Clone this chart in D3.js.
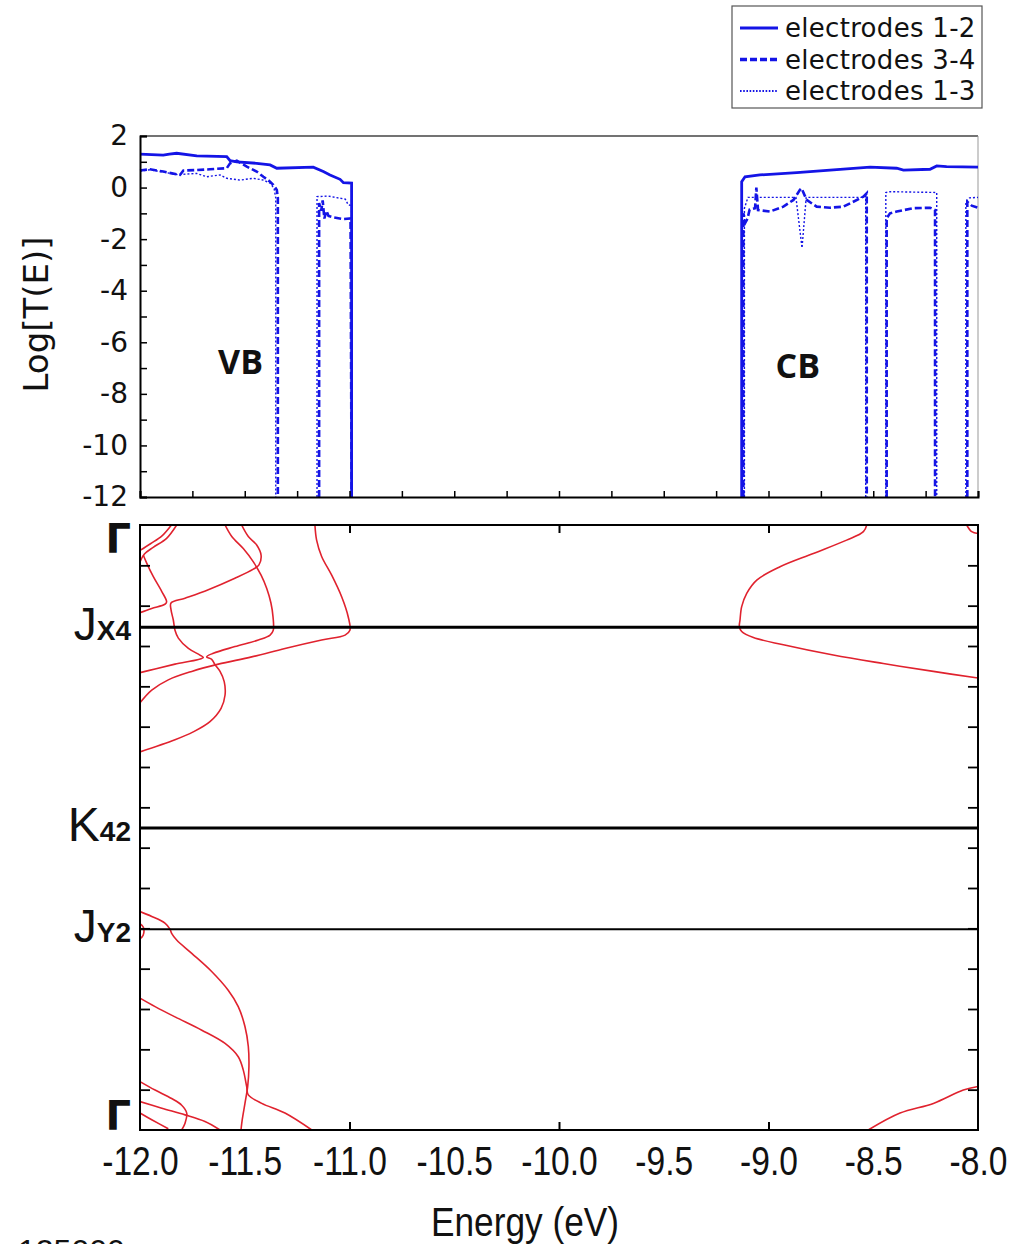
<!DOCTYPE html>
<html>
<head>
<meta charset="utf-8">
<script src="https://cdn.jsdelivr.net/npm/d3@7"></script>
<style>
  body { margin: 0; background: #fff; }
</style>
</head>
<body>
<svg id="chart" width="1021" height="1244"></svg>
<script>
// ---- data ----
var energyTicks = [-12, -11.5, -11, -10.5, -10, -9.5, -9, -8.5, -8];
var logTicks = [2, 0, -2, -4, -6, -8, -10, -12];
var seriesNames = ["electrodes 1-2", "electrodes 3-4", "electrodes 1-3"];

// transmission, [energy, log T], null = break
var trans12 = [
  [-12, 1.30], [-11.889, 1.26], [-11.86, 1.30], [-11.825, 1.33], [-11.729, 1.23], [-11.586, 1.20],
  [-11.57, 1.04], [-11.538, 1.00], [-11.443, 0.94], [-11.379, 0.88], [-11.347, 0.75], [-11.173, 0.79],
  [-11.125, 0.62], [-11.093, 0.49], [-11.045, 0.32], [-11.029, 0.19], [-10.99, 0.17], [-10.99, -12],
  null,
  [-9.128, -12], [-9.128, 0.23], [-9.112, 0.42], [-9.041, 0.49], [-8.865, 0.58], [-8.706, 0.68],
  [-8.515, 0.79], [-8.388, 0.75], [-8.356, 0.68], [-8.229, 0.71], [-8.197, 0.84], [-8.15, 0.81], [-8.0, 0.79]
];
var trans34 = [
  [-12, 0.66], [-11.952, 0.71], [-11.889, 0.62], [-11.809, 0.49], [-11.793, 0.66], [-11.729, 0.68],
  [-11.666, 0.71], [-11.586, 0.75], [-11.57, 0.94], [-11.538, 1.04], [-11.49, 0.81], [-11.443, 0.62],
  [-11.411, 0.42], [-11.379, 0.23], [-11.363, 0.10], [-11.347, -0.09], [-11.342, -0.4], [-11.342, -12],
  null,
  [-11.145, -12], [-11.145, -0.6], [-11.135, -0.9], [-11.128, -0.5], [-11.12, -1.2], [-11.11, -0.9],
  [-11.10, -1.1], [-11.08, -1.15], [-11.03, -1.22], [-10.995, -1.2], [-10.99, -12],
  null,
  [-9.12, -12], [-9.12, -1.0], [-9.11, -1.35], [-9.10, -1.2], [-9.09, -0.85], [-9.064, -0.80],
  [-9.058, 0.0], [-9.05, -0.87], [-8.993, -0.93], [-8.929, -0.74], [-8.881, -0.48], [-8.85, -0.09],
  [-8.842, -0.03], [-8.818, -0.48], [-8.77, -0.74], [-8.706, -0.78], [-8.643, -0.74], [-8.595, -0.55],
  [-8.547, -0.35], [-8.531, -0.22], [-8.531, -12],
  null,
  [-8.436, -12], [-8.436, -1.19], [-8.42, -1.0], [-8.388, -0.93], [-8.309, -0.80], [-8.229, -0.78],
  [-8.205, -0.87], [-8.205, -12],
  null,
  [-8.051, -12], [-8.051, -0.55], [-8.03, -0.7], [-8.0, -0.78]
];
var trans13 = [
  [-12, 0.64], [-11.952, 0.69], [-11.889, 0.60], [-11.82, 0.50], [-11.73, 0.55], [-11.682, 0.42],
  [-11.618, 0.49], [-11.586, 0.36], [-11.523, 0.29], [-11.459, 0.36], [-11.411, 0.29], [-11.379, 0.17],
  [-11.36, -0.03], [-11.352, -0.4], [-11.352, -12],
  null,
  [-11.155, -12], [-11.155, -0.35], [-11.10, -0.33], [-11.061, -0.39], [-11.02, -0.45], [-11.006, -0.67],
  [-10.99, -0.7], [-10.99, -12],
  null,
  [-9.115, -12], [-9.115, -0.8], [-9.098, -0.38], [-8.869, -0.38], [-8.84, -2.34], [-8.82, -0.38],
  [-8.547, -0.38], [-8.536, -0.25], [-8.536, -12],
  null,
  [-8.44, -12], [-8.44, -0.19], [-8.42, -0.16], [-8.197, -0.19], [-8.197, -12],
  null,
  [-8.058, -12], [-8.058, -0.55], [-8.04, -0.4], [-8.0, -0.38]
];

// k-path labels (0 = top Gamma, 1 = bottom Gamma)
var kPoints = [0, 0.169, 0.501, 0.668, 1];
var kNames = ["Γ", "J", "K", "J", "Γ"];
var kSubs = ["", "X4", "42", "Y2", ""];

// band lines, [energy, k]
var bandA = [[-11.825, 0], [-11.873, 0.022], [-11.937, 0.037], [-11.979, 0.048], [-12.0, 0.061]];
var bandA2 = [[-11.85, 0], [-11.895, 0.018], [-11.95, 0.031], [-12.0, 0.042]];
var bandB = [[-11.984, 0.050], [-11.968, 0.063], [-11.937, 0.085], [-11.896, 0.110], [-11.873, 0.127],
  [-11.881, 0.131], [-11.944, 0.138], [-12.0, 0.145]];
var bandC = [[-11.515, 0], [-11.483, 0.019], [-11.443, 0.033], [-11.422, 0.050], [-11.432, 0.066],
  [-11.459, 0.073], [-11.547, 0.088], [-11.674, 0.107], [-11.785, 0.121], [-11.852, 0.129],
  [-11.852, 0.140], [-11.841, 0.157], [-11.833, 0.174], [-11.817, 0.187], [-11.769, 0.204],
  [-11.714, 0.215], [-11.698, 0.219], [-11.833, 0.230], [-11.928, 0.238], [-12.0, 0.244]];
var bandD = [[-11.594, 0], [-11.562, 0.019], [-11.507, 0.039], [-11.459, 0.061], [-11.422, 0.083],
  [-11.395, 0.105], [-11.375, 0.129], [-11.365, 0.152], [-11.364, 0.174], [-11.379, 0.182],
  [-11.435, 0.190], [-11.547, 0.201], [-11.650, 0.212], [-11.682, 0.218], [-11.658, 0.222],
  [-11.642, 0.231], [-11.618, 0.242], [-11.598, 0.259], [-11.594, 0.281], [-11.613, 0.303],
  [-11.666, 0.325], [-11.746, 0.342], [-11.833, 0.355], [-12.0, 0.375]];
var bandE = [[-11.165, 0], [-11.157, 0.025], [-11.133, 0.052], [-11.085, 0.083], [-11.037, 0.119],
  [-11.006, 0.152], [-10.998, 0.174], [-11.021, 0.182], [-11.133, 0.190], [-11.308, 0.204],
  [-11.467, 0.218], [-11.626, 0.230], [-11.753, 0.242], [-11.865, 0.256], [-11.944, 0.273], [-12.0, 0.294]];
var bandF = [[-8.531, 0], [-8.547, 0.011], [-8.627, 0.025], [-8.786, 0.047], [-8.945, 0.069],
  [-9.056, 0.091], [-9.104, 0.113], [-9.128, 0.135], [-9.136, 0.157], [-9.139, 0.168], [-9.128, 0.176],
  [-9.072, 0.186], [-8.929, 0.198], [-8.691, 0.215], [-8.452, 0.229], [-8.213, 0.242], [-8.0, 0.253]];
var bandF2 = [[-8.054, 0], [-8.030, 0.011], [-8.0, 0.014]];
var bandG = [[-12.0, 0.639], [-11.944, 0.647], [-11.881, 0.658], [-11.857, 0.668], [-11.849, 0.675],
  [-11.825, 0.686], [-11.753, 0.708], [-11.658, 0.738], [-11.579, 0.769], [-11.531, 0.796],
  [-11.499, 0.829], [-11.483, 0.862], [-11.480, 0.895], [-11.486, 0.928], [-11.499, 0.956],
  [-11.512, 0.983], [-11.518, 1.0]];
var bandLoop = [[-12.0, 0.659], [-11.984, 0.665], [-11.985, 0.678], [-12.0, 0.684]];
var bandH = [[-12.0, 0.782], [-11.928, 0.796], [-11.833, 0.813], [-11.705, 0.835], [-11.594, 0.857],
  [-11.531, 0.879], [-11.507, 0.901], [-11.491, 0.928], [-11.483, 0.942], [-11.419, 0.956],
  [-11.308, 0.972], [-11.180, 1.0]];
var bandI = [[-12.0, 0.920], [-11.928, 0.934], [-11.849, 0.948], [-11.801, 0.959], [-11.777, 0.972],
  [-11.785, 0.989], [-11.801, 1.0]];
var bandJ = [[-12.0, 0.953], [-11.896, 0.964], [-11.785, 0.975], [-11.690, 0.986], [-11.618, 1.0]];
var bandK = [[-12.0, 0.972], [-11.944, 0.983], [-11.865, 0.998]];
var bandL = [[-8.524, 1.0], [-8.372, 0.972], [-8.213, 0.956], [-8.070, 0.934], [-8.0, 0.928]];
var bands = [bandA, bandA2, bandB, bandC, bandD, bandE, bandF, bandF2, bandG, bandLoop, bandH, bandI, bandJ, bandK, bandL];

// ---- drawing ----
var svg = d3.select("#chart");
var left = 140, right = 978,
  topT = 136, bottomT = 497,
  topB = 525, bottomB = 1130;

var x = d3.scaleLinear().domain([-12, -8]).range([left, right]);
var yT = d3.scaleLinear().domain([-12, 2]).range([bottomT, topT]);
var yK = d3.scaleLinear().domain([0, 1]).range([topB, bottomB]);

var blue = "#1414e6", red = "#e0222e";

svg.append("defs").append("clipPath").attr("id", "clipB")
  .append("rect").attr("x", left).attr("y", topB).attr("width", right - left).attr("height", bottomB - topB);

// top panel frame
svg.append("line").attr("x1", left).attr("x2", right).attr("y1", topT).attr("y2", topT)
  .attr("stroke", "#444").attr("stroke-width", 1.5);
svg.append("line").attr("x1", right).attr("x2", right).attr("y1", topT).attr("y2", bottomT)
  .attr("stroke", "#999").attr("stroke-width", 1);

// transmission lines
var tline = d3.line()
  .defined(function(d) { return d !== null; })
  .x(function(d) { return x(d[0]); })
  .y(function(d) { return yT(d[1]); });

var styles = [
  {data: trans13, w: 1.4, dash: "2,2"},
  {data: trans34, w: 2.6, dash: "7,3"},
  {data: trans12, w: 2.8, dash: null}
];
styles.forEach(function(s) {
  svg.append("path")
    .attr("d", tline(s.data))
    .attr("fill", "none")
    .attr("stroke", blue)
    .attr("stroke-width", s.w)
    .attr("stroke-dasharray", s.dash);
});

// top panel axes
svg.append("g").attr("transform", "translate(0," + bottomT + ")")
  .call(d3.axisTop(x).tickValues(d3.range(-12, -7.99, 0.25)).tickSize(6).tickFormat(""))
  .call(function(g) { g.select(".domain").attr("stroke-width", 2); g.selectAll(".tick line").attr("stroke-width", 1.5); });

svg.append("g").attr("transform", "translate(" + left + ",0)")
  .call(d3.axisRight(yT).tickValues(d3.range(-12, 2.1, 1)).tickSize(7).tickFormat(""))
  .call(function(g) { g.select(".domain").attr("stroke-width", 2); g.selectAll(".tick line").attr("stroke-width", 1.5); });

svg.append("g").attr("transform", "translate(" + left + ",0)")
  .call(d3.axisLeft(yT).tickValues(logTicks).tickSize(0).tickPadding(12).tickFormat(function(d) { return String(d); }))
  .call(function(g) {
    g.select(".domain").remove();
    g.selectAll("text").attr("font-family", "DejaVu Sans").attr("font-size", 28).attr("fill", "#111");
  });

svg.append("text")
  .attr("transform", "translate(48," + ((topT + bottomT) / 2 - 2) + ") rotate(-90)")
  .attr("text-anchor", "middle")
  .attr("font-family", "DejaVu Sans").attr("font-size", 34).attr("fill", "#111")
  .text("Log[T(E)]");

svg.append("text").attr("x", x(-11.52)).attr("y", 374)
  .attr("text-anchor", "middle").attr("font-family", "Open Sans").attr("font-weight", "bold")
  .attr("font-size", 34).attr("fill", "#111").text("VB");
svg.append("text").attr("x", x(-8.86)).attr("y", 378)
  .attr("text-anchor", "middle").attr("font-family", "Open Sans").attr("font-weight", "bold")
  .attr("font-size", 34).attr("fill", "#111").text("CB");

// legend
var lg = svg.append("g");
lg.append("rect").attr("x", 732).attr("y", 6).attr("width", 250).attr("height", 102)
  .attr("fill", "#fff").attr("stroke", "#555").attr("stroke-width", 1.2);
var legDash = [null, "7,3", "1.6,1.6"], legW = [3, 3.5, 2.2];
seriesNames.forEach(function(n, i) {
  var yy = 28 + i * 31.5;
  lg.append("line").attr("x1", 740).attr("x2", 778).attr("y1", yy).attr("y2", yy)
    .attr("stroke", blue).attr("stroke-width", legW[i]).attr("stroke-dasharray", legDash[i]);
  lg.append("text").attr("x", 785).attr("y", yy + 9)
    .attr("font-family", "DejaVu Sans").attr("font-size", 26).attr("letter-spacing", 0.3)
    .attr("fill", "#111").text(n);
});

// bottom panel: bands
var bline = d3.line()
  .x(function(d) { return x(d[0]); })
  .y(function(d) { return yK(d[1]); })
  .curve(d3.curveCatmullRom.alpha(0.5));
svg.append("g").attr("clip-path", "url(#clipB)")
  .selectAll("path").data(bands).enter().append("path")
  .attr("d", bline)
  .attr("fill", "none").attr("stroke", red).attr("stroke-width", 1.6);

// k-point lines
svg.selectAll(".kline").data(kPoints.slice(1, 4)).enter().append("line")
  .attr("class", "kline")
  .attr("x1", left).attr("x2", right)
  .attr("y1", function(d) { return yK(d); }).attr("y2", function(d) { return yK(d); })
  .attr("stroke", "#000").attr("stroke-width", function(d, i) { return i < 2 ? 3 : 2; });

// bottom frame
svg.append("rect").attr("x", left).attr("y", topB).attr("width", right - left).attr("height", bottomB - topB)
  .attr("fill", "none").attr("stroke", "#000").attr("stroke-width", 2);

var kTicks = d3.range(1, 15).map(function(i) { return i / 15; });
svg.append("g").attr("transform", "translate(" + left + ",0)")
  .call(d3.axisRight(yK).tickValues(kTicks).tickSize(10).tickFormat(""))
  .call(function(g) { g.select(".domain").remove(); g.selectAll(".tick line").attr("stroke-width", 1.8); });
svg.append("g").attr("transform", "translate(" + right + ",0)")
  .call(d3.axisLeft(yK).tickValues(kTicks).tickSize(10).tickFormat(""))
  .call(function(g) { g.select(".domain").remove(); g.selectAll(".tick line").attr("stroke-width", 1.8); });
svg.append("g").attr("transform", "translate(0," + topB + ")")
  .call(d3.axisBottom(x).tickValues([-11, -10, -9]).tickSize(8).tickFormat(""))
  .call(function(g) { g.select(".domain").remove(); g.selectAll(".tick line").attr("stroke-width", 2); });
svg.append("g").attr("transform", "translate(0," + bottomB + ")")
  .call(d3.axisTop(x).tickValues([-11, -10, -9]).tickSize(8).tickFormat(""))
  .call(function(g) { g.select(".domain").remove(); g.selectAll(".tick line").attr("stroke-width", 2); });

// energy labels
svg.append("g").attr("transform", "translate(0," + bottomB + ")")
  .call(d3.axisBottom(x).tickValues(energyTicks).tickSize(0).tickPadding(17)
    .tickFormat(function(d) { return d.toFixed(1); }))
  .call(function(g) {
    g.select(".domain").remove();
    g.selectAll("text").attr("font-family", "Liberation Sans").attr("font-size", 40)
      .attr("fill", "#111").attr("transform", "scale(0.84,1)");
  });

svg.append("text")
  .attr("transform", "translate(525,1236) scale(0.86,1)")
  .attr("text-anchor", "middle")
  .attr("font-family", "Liberation Sans").attr("font-size", 41).attr("fill", "#111")
  .text("Energy (eV)");

// k labels
var kl = svg.selectAll(".klab").data(kPoints).enter().append("text")
  .attr("class", "klab")
  .attr("x", 131)
  .attr("y", function(d, i) { return i === 0 ? yK(d) + 28 : i === 4 ? yK(d) : yK(d) + 13; })
  .attr("text-anchor", "end")
  .attr("font-family", "Liberation Sans").attr("fill", "#111");
kl.append("tspan").attr("font-size", function(d, i) { return (i === 0 || i === 4) ? 40 : i === 2 ? 48 : 46; })
  .attr("font-family", function(d, i) { return (i === 0 || i === 4) ? "DejaVu Sans" : "Liberation Sans"; })
  .attr("font-weight", function(d, i) { return (i === 0 || i === 4) ? "bold" : "normal"; })
  .text(function(d, i) { return kNames[i]; });
kl.append("tspan").attr("font-size", 28).attr("font-weight", "bold")
  .text(function(d, i) { return kSubs[i]; });

// number cut off at the bottom edge, as in the source image
svg.append("text").attr("x", 18).attr("y", 1262)
  .attr("font-family", "Liberation Sans").attr("font-size", 32).attr("fill", "#111")
  .text("125000");
</script>
</body>
</html>
